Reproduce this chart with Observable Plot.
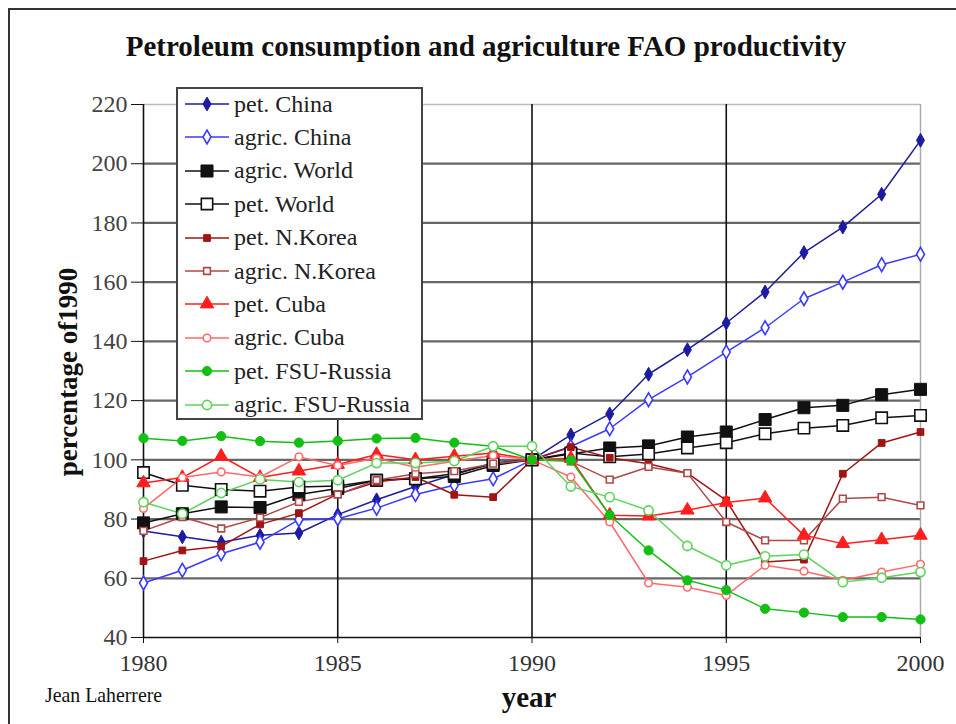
<!DOCTYPE html>
<html>
<head>
<meta charset="utf-8">
<script src="https://cdn.jsdelivr.net/npm/d3@7"></script>
<script src="https://cdn.jsdelivr.net/npm/@observablehq/plot@0.6"></script>
<style>
  html, body { margin: 0; padding: 0; background: #fff; }
  #wrap { position: relative; width: 956px; height: 724px; overflow: hidden; font-family: "Liberation Serif", "DejaVu Serif", serif; }
  #frame { position: absolute; left: 8px; top: 8px; width: 2000px; height: 2000px; border-left: 2px solid #333; border-top: 2px solid #333; }
  #title { position: absolute; left: 0; width: 972px; top: 30px; text-align: center; font-weight: bold; font-size: 29px; color: #111; white-space: nowrap; }
  #ylab { position: absolute; left: 68px; top: 372px; transform: translate(-50%, -50%) rotate(-90deg); font-weight: bold; font-size: 27px; white-space: nowrap; color: #111; }
  #xlab { position: absolute; left: 529px; top: 681px; transform: translateX(-50%); font-weight: bold; font-size: 29px; color: #111; }
  #credit { position: absolute; left: 45px; top: 682px; font-size: 22px; color: #111; white-space: nowrap; transform: scaleX(0.9); transform-origin: left; }
  #legend { position: absolute; left: 176px; top: 87px; width: 243px; height: 329px; background: #fff; border: 2px solid #444; }
  .lrow { position: absolute; left: 5px; height: 26px; display: flex; align-items: center; font-size: 24px; color: #222; white-space: nowrap; }
  .lrow svg { margin-right: 3px; }
  #chart { position: absolute; left: 0; top: 0; }
</style>
</head>
<body>
<div id="wrap">
  <div id="frame"></div>
  <div id="chart"></div>
  <div id="title">Petroleum consumption and agriculture FAO productivity</div>
  <div id="ylab">percentage of1990</div>
  <div id="xlab">year</div>
  <div id="credit">Jean Laherrere</div>
  <div id="legend"></div>
</div>
<script>
const years = [1980,1981,1982,1983,1984,1985,1986,1987,1988,1989,1990,1991,1992,1993,1994,1995,1996,1997,1998,1999,2000];
const yTicks = [40,60,80,100,120,140,160,180,200,220];
const xTicks = [1980,1985,1990,1995,2000];

const petChina    = [76,74,72.2,74.5,75.3,81.5,86.5,91,95,99,100,108.4,115.5,128.9,137.2,146.2,156.7,170,178.6,189.7,207.9];
const agricChina  = [58.4,62.7,68.3,72.2,79.8,80.1,83.7,88.3,91.4,93.6,100,104.5,110.5,120.3,128,136.4,144.6,154.4,160,165.9,169.4];
const agricWorld  = [78.7,81.8,84.1,83.9,88.3,90.3,93.1,93.6,94.4,98.1,100,102,104,104.7,107.7,109.4,113.6,117.6,118.4,122,123.8];
const petWorld    = [95.7,91.4,90,89.4,90.8,91.2,93.1,93.6,95.3,98.7,100,102.3,101,102,104,105.8,108.8,110.7,111.6,114.2,115];
const petNKorea   = [65.8,69.4,70.8,78.2,82,88.4,92.5,94.2,88.2,87.4,100,104.3,100.7,98.7,95.5,86.3,65.5,66.3,95.3,105.7,109.4];
const agricNKorea = [76,80.7,76.8,80.5,85.8,88.3,93.1,95.3,96.2,98.7,100,99.5,93.3,97.6,95.5,79,72.8,72.8,86.9,87.4,84.6];
const petCuba     = [92.2,94,101.2,94,96.2,98.4,101.8,100,101.2,102.3,100,100.5,81.3,81,83,85.6,87.1,74.5,71.7,73,74.5];
const agricCuba   = [83.6,94,95.9,94.2,101,98.1,100.5,97.5,99.5,101.5,100,94.2,79,58.4,57,54.2,64.4,62.4,59.3,62.1,64.7];
const petFSU      = [107.3,106.4,108,106.3,105.8,106.4,107.2,107.4,105.8,104.6,100,99.8,81.3,69.4,59.3,56,49.7,48.4,46.9,46.9,46.1];
const agricFSU    = [85.7,81.8,88.8,93.4,92.5,93.1,98.9,98.9,99.6,104.6,104.6,91,87.4,82.9,70.9,64.4,67.4,68,58.7,60.2,62.1];

const seriesNames  = ["pet. China","agric. China","agric. World","pet. World","pet. N.Korea","agric. N.Korea","pet. Cuba","agric. Cuba","pet. FSU-Russia","agric. FSU-Russia"];
const seriesValues = [petChina,agricChina,agricWorld,petWorld,petNKorea,agricNKorea,petCuba,agricCuba,petFSU,agricFSU];
const lineColors   = ["#1c1ca0","#3a3aff","#111111","#111111","#a01414","#b04848","#ff1e1e","#ff6a6a","#14bf14","#5cd45c"];
const symbols      = ["diamond","diamond","square","square","square","square","triangle","circle","circle","circle"];
const filled       = [true,false,true,false,true,false,true,false,true,false];
const radii        = [4.2,4.2,6.8,6.4,3.8,3.8,5,3.8,4.6,4.6];

const marks = [
  Plot.ruleY(yTicks.filter(v => v > 40 && v < 220), {stroke: "#666", strokeWidth: 2.2}),
  Plot.ruleY([220], {stroke: "#bbb", strokeWidth: 1.5}),
  Plot.ruleX(xTicks.filter(v => v > 1980 && v < 2000), {stroke: "#111", strokeWidth: 1.6}),
  Plot.ruleX([2000], {stroke: "#aaa", strokeWidth: 1.5}),
  Plot.ruleX([1980], {stroke: "#111", strokeWidth: 1.6}),
  Plot.ruleY([40], {stroke: "#111", strokeWidth: 1.6}),
  Plot.axisY({ticks: yTicks, tickSize: 12, tickPadding: 4, tickFormat: d => String(d), fill: "#444", stroke: "#111", fontSize: 24, label: null}),
  Plot.axisX({ticks: xTicks, tickSize: 6, tickPadding: 10, tickFormat: d => String(d), fill: "#333", stroke: "#111", fontSize: 24, label: null})
];

seriesNames.forEach((name, i) => {
  const rows = years.map((y, j) => ({year: y, value: seriesValues[i][j]}));
  marks.push(Plot.line(rows, {x: "year", y: "value", stroke: lineColors[i], strokeWidth: 1.5}));
});
seriesNames.forEach((name, i) => {
  const rows = years.map((y, j) => ({year: y, value: seriesValues[i][j]}));
  marks.push(Plot.dot(rows, {
    x: "year", y: "value", symbol: () => symbols[i], r: radii[i],
    fill: filled[i] ? lineColors[i] : "#fff",
    stroke: lineColors[i], strokeWidth: filled[i] ? 1 : 1.6
  }));
});

const chart = Plot.plot({
  width: 956,
  height: 724,
  marginLeft: 143,
  marginRight: 36,
  marginTop: 104,
  marginBottom: 87,
  style: {fontFamily: "Liberation Serif, serif", background: "transparent", overflow: "visible"},
  x: {domain: [1980, 2000], label: null},
  y: {domain: [40, 220], label: null},
  symbol: {type: "identity"},
  marks
});
document.getElementById("chart").appendChild(chart);

// legend
const legend = document.getElementById("legend");
const symPath = {
  diamond: r => d3.symbol(d3.symbolDiamond, r*r*Math.PI)(),
  square: r => d3.symbol(d3.symbolSquare, r*r*Math.PI)(),
  triangle: r => d3.symbol(d3.symbolTriangle, r*r*Math.PI)(),
  circle: r => d3.symbol(d3.symbolCircle, r*r*Math.PI)()
};
seriesNames.forEach((name, i) => {
  const row = document.createElement("div");
  row.className = "lrow";
  row.style.top = (2 + i * 33.4) + "px";
  const fill = filled[i] ? lineColors[i] : "#fff";
  row.innerHTML = `<svg width="48" height="20"><line x1="2" x2="46" y1="10" y2="10" stroke="${lineColors[i]}" stroke-width="1.5"/>` +
    `<path transform="translate(24,10)" d="${symPath[symbols[i]](radii[i])}" fill="${fill}" stroke="${lineColors[i]}" stroke-width="${filled[i] ? 1 : 1.6}"/></svg>` +
    `<span>${name}</span>`;
  legend.appendChild(row);
});
</script>
</body>
</html>
